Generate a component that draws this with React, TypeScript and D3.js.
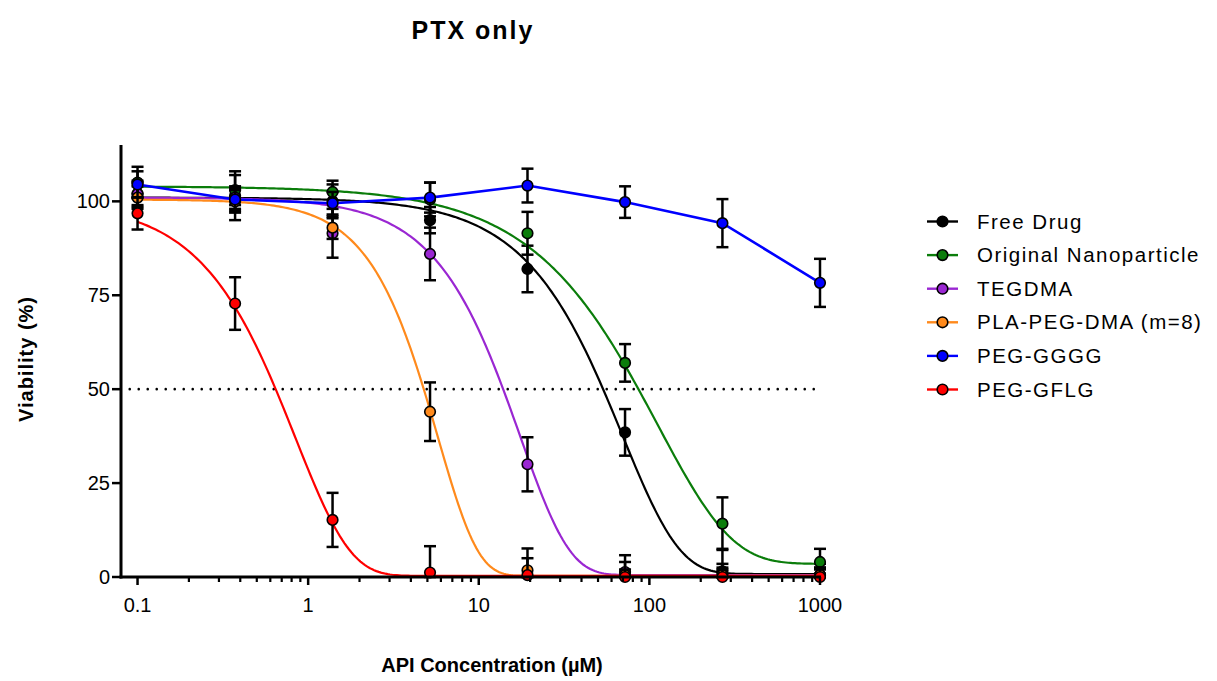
import React from "react";
import * as d3 from "d3";

// concentrations (uM)
const concentrations = [0.1, 0.373, 1.39, 5.18, 19.3, 72, 268, 1000];

const seriesNames = [
  "Free Drug",
  "Original Nanoparticle",
  "TEGDMA",
  "PLA-PEG-DMA (m=8)",
  "PEG-GGGG",
  "PEG-GFLG",
];
const seriesColors = ["#000000", "#0b7d0b", "#9a27d2", "#ff8a1c", "#0000ff", "#ff0000"];

// mean viability (%) per concentration
const freeDrug = [102, 101.5, 100, 95, 82, 38.5, 1.5, 0.5];
const originalNp = [105, 103, 102.5, 100.5, 91.5, 57, 14.2, 4];
const tegdma = [102, 101, 91.5, 86, 30, 1.3, 0.5, 0.5];
const plaPegDma = [101, 100, 93, 44, 1.8, 0.5, 0.5, 0.5];
const pegGggg = [104.5, 100.5, 99.5, 101, 104.2, 99.8, 94.2, 78.3];
const pegGflg = [96.8, 72.8, 15.2, 1.2, 0.5, 0, 0, 0];

// SD error bars
const freeDrugSd = [3.5, 6.5, 4.5, 3.5, 6.2, 6.2, 6, 3];
const originalNpSd = [4.2, 4, 3, 4.5, 5.7, 5, 7, 3.5];
const tegdmaSd = [3, 3, 6.5, 7, 7.2, 4.5, 3, 2];
const plaPegDmaSd = [3, 3, 3, 7.8, 5.8, 3.5, 2, 2];
const pegGgggSd = [3.5, 3, 3, 4, 4.5, 4.2, 6.4, 6.4];
const pegGflgSd = [4.3, 7, 7.2, 7, 4.5, 2, 2, 2];

const means = [freeDrug, originalNp, tegdma, plaPegDma, pegGggg, pegGflg];
const sds = [freeDrugSd, originalNpSd, tegdmaSd, plaPegDmaSd, pegGgggSd, pegGflgSd];

// fitted dose-response curves (null = points joined by straight lines)
const fitTop = [101, 104, 101, 100.5, null, 100];
const fitBottom = [0.8, 3.5, 0.5, 0.3, null, 0.3];
const fitEC50 = [52.5, 77.6, 13.7, 4.73, null, 0.643];
const fitSlope = [1.3, 1.0, 1.5, 1.85, null, 1.35];

const yTicks = [0, 25, 50, 75, 100];
const xMajorTicks = [0.1, 1, 10, 100, 1000];
const xTickLabels = ["0.1", "1", "10", "100", "1000"];

const font = "'Liberation Sans', Arial, sans-serif";

export default function App() {
  const width = 1217;
  const height = 681;

  const x = d3.scaleLog().domain([0.08, 1000]).range([121, 820]);
  const y = d3.scaleLinear().domain([0, 115]).range([577, 145]);

  const minorTicks: number[] = [];
  for (const decade of [0.1, 1, 10, 100]) {
    for (let k = 2; k <= 9; k++) minorTicks.push(decade * k);
  }

  // asymmetric sigmoid: half-way point at EC50
  const curveFor = (i: number) => {
    const top = fitTop[i] as number;
    const bottom = fitBottom[i] as number;
    const h = fitSlope[i] as number;
    const le = Math.log10(fitEC50[i] as number);
    const f = (u: number) => bottom + (top - bottom) * Math.exp(-Math.LN2 * Math.pow(10, h * (u - le)));
    const u0 = Math.log10(concentrations[0]);
    const u1 = Math.log10(concentrations[concentrations.length - 1]);
    const pts: [number, number][] = d3.range(0, 301).map((k) => {
      const u = u0 + ((u1 - u0) * k) / 300;
      return [x(Math.pow(10, u)), y(f(u))];
    });
    return d3.line()(pts) as string;
  };

  const straightFor = (i: number) =>
    d3
      .line<number>()
      .x((_, j) => x(concentrations[j]))
      .y((d) => y(d))(means[i]) as string;

  const legendX = 927;
  const legendY0 = 221.5;
  const legendStep = 33.6;

  return (
    <svg
      width={width}
      height={height}
      style={{ position: "absolute", left: 0, top: 0, background: "#fff" }}
      fontFamily={font}
    >
      <text x={473} y={39} textAnchor="middle" fontSize={25} fontWeight="bold" letterSpacing={2}>
        PTX only
      </text>

      {/* 50% reference line */}
      <line
        x1={x(0.09)}
        x2={x(1000)}
        y1={y(50)}
        y2={y(50)}
        stroke="#000"
        strokeWidth={2.6}
        strokeLinecap="round"
        strokeDasharray="0 9"
      />

      {/* series */}
      {means.map((vals, i) => (
        <g key={seriesNames[i]}>
          <path
            d={fitTop[i] === null ? straightFor(i) : curveFor(i)}
            fill="none"
            stroke={seriesColors[i]}
            strokeWidth={fitTop[i] === null ? 2.6 : 2.2}
          />
          {vals.map((v, j) => {
            const cx = x(concentrations[j]);
            const hi = y(v + sds[i][j]);
            const lo = y(Math.max(v - sds[i][j], 0));
            return (
              <g key={j} stroke="#000" strokeWidth={2.5}>
                <line x1={cx} x2={cx} y1={hi} y2={lo} />
                <line x1={cx - 6} x2={cx + 6} y1={hi} y2={hi} />
                <line x1={cx - 6} x2={cx + 6} y1={lo} y2={lo} />
              </g>
            );
          })}
          {vals.map((v, j) => (
            <circle
              key={"p" + j}
              cx={x(concentrations[j])}
              cy={y(v)}
              r={5.3}
              fill={seriesColors[i]}
              stroke="#000"
              strokeWidth={1.6}
            />
          ))}
        </g>
      ))}

      {/* axes */}
      <g stroke="#000" strokeWidth={3} fill="none">
        <line x1={x(0.08)} x2={x(0.08)} y1={y(115)} y2={y(0) + 1.5} />
        <line x1={x(0.08) - 1.5} x2={x(1000) + 1} y1={y(0)} y2={y(0)} />
      </g>
      {yTicks.map((t) => (
        <g key={"y" + t}>
          <line x1={x(0.08) - 9} x2={x(0.08)} y1={y(t)} y2={y(t)} stroke="#000" strokeWidth={2.5} />
          <text x={x(0.08) - 11} y={y(t) + 7} textAnchor="end" fontSize={20}>
            {t}
          </text>
        </g>
      ))}
      {xMajorTicks.map((t, k) => (
        <g key={"x" + t}>
          <line x1={x(t)} x2={x(t)} y1={y(0)} y2={y(0) + 8} stroke="#000" strokeWidth={2.5} />
          <text x={x(t)} y={612} textAnchor="middle" fontSize={20}>
            {xTickLabels[k]}
          </text>
        </g>
      ))}
      {minorTicks.map((t) => (
        <line key={"m" + t} x1={x(t)} x2={x(t)} y1={y(0)} y2={y(0) + 5} stroke="#000" strokeWidth={2.2} />
      ))}

      <text x={492} y={672} textAnchor="middle" fontSize={20} fontWeight="bold">
        API Concentration (µM)
      </text>
      <text
        transform={`translate(33,${359}) rotate(-90)`}
        textAnchor="middle"
        fontSize={20}
        fontWeight="bold"
        letterSpacing={1}
      >
        Viability (%)
      </text>

      {/* legend */}
      {seriesNames.map((name, i) => {
        const ly = legendY0 + i * legendStep;
        return (
          <g key={"lg" + name}>
            <line x1={legendX} x2={legendX + 31} y1={ly} y2={ly} stroke={seriesColors[i]} strokeWidth={2.4} />
            <circle cx={legendX + 15.5} cy={ly} r={5.3} fill={seriesColors[i]} stroke="#000" strokeWidth={1.6} />
            <text x={977} y={ly + 7} fontSize={20.5} letterSpacing={1.5}>
              {name}
            </text>
          </g>
        );
      })}
    </svg>
  );
}
